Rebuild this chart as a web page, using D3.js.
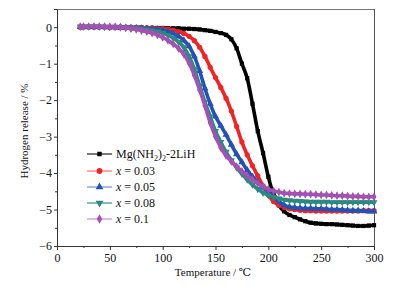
<!DOCTYPE html>
<html><head><meta charset="utf-8">
<script src="https://cdn.jsdelivr.net/npm/d3@7"></script>
<style>
html,body{margin:0;padding:0;background:#fff;}
svg{display:block;}
svg text{font-family:"Liberation Serif","DejaVu Serif","Times New Roman",serif;}
</style></head>
<body><svg id="c" width="404" height="286"></svg>
<script>
const temps = [22,25,30,35,40,45,50,55,60,65,70,75,80,85,90,95,100,105,110,115,120,125,130,135,140,145,150,155,160,165,170,175,180,185,190,195,200,205,210,215,220,225,230,235,240,245,250,255,260,265,270,275,280,285,290,295,300];
const base = [0,0,0,0,0,0,0,0,-0.01,-0.01,-0.01,-0.01,-0.01,-0.02,-0.02,-0.02,-0.02,-0.03,-0.03,-0.03,-0.04,-0.04,-0.05,-0.06,-0.08,-0.1,-0.13,-0.16,-0.21,-0.33,-0.58,-1.0,-1.4,-2.1,-2.85,-3.45,-4.1,-4.6,-4.88,-5.05,-5.15,-5.21,-5.27,-5.32,-5.36,-5.38,-5.39,-5.4,-5.4,-5.41,-5.42,-5.43,-5.44,-5.45,-5.45,-5.44,-5.43];
const x003 = [0.01,0.01,0.01,0.01,0.01,0.01,0,0,0,0,-0.01,-0.01,-0.01,-0.02,-0.02,-0.03,-0.04,-0.06,-0.08,-0.12,-0.17,-0.25,-0.37,-0.55,-0.8,-1.1,-1.38,-1.65,-1.95,-2.3,-2.72,-3.15,-3.5,-3.8,-4.08,-4.35,-4.6,-4.78,-4.88,-4.94,-4.98,-5.0,-5.02,-5.03,-5.03,-5.04,-5.04,-5.04,-5.04,-5.04,-5.04,-5.04,-5.04,-5.04,-5.03,-5.03,-5.03];
const x005 = [0.01,0.01,0.01,0.01,0.01,0.01,0,0,0,-0.01,-0.01,-0.02,-0.03,-0.04,-0.05,-0.06,-0.08,-0.12,-0.17,-0.25,-0.36,-0.52,-0.8,-1.2,-1.68,-2.1,-2.45,-2.7,-2.95,-3.22,-3.48,-3.7,-3.92,-4.1,-4.25,-4.4,-4.52,-4.65,-4.78,-4.88,-4.93,-4.95,-4.96,-4.97,-4.97,-4.98,-4.98,-4.99,-5.0,-5.0,-5.01,-5.02,-5.03,-5.03,-5.04,-5.05,-5.05];
const x008 = [0.02,0.02,0.02,0.02,0.02,0.01,0.01,0.01,0,-0.01,-0.02,-0.03,-0.05,-0.07,-0.09,-0.12,-0.16,-0.22,-0.3,-0.4,-0.55,-0.8,-1.15,-1.6,-2.05,-2.45,-2.85,-3.15,-3.42,-3.65,-3.85,-4.02,-4.18,-4.32,-4.44,-4.54,-4.61,-4.66,-4.7,-4.73,-4.75,-4.76,-4.77,-4.78,-4.79,-4.79,-4.79,-4.79,-4.8,-4.8,-4.8,-4.8,-4.8,-4.8,-4.8,-4.8,-4.8];
const x01 = [0.02,0.02,0.02,0.02,0.02,0.02,0.01,0.01,0,-0.02,-0.04,-0.06,-0.09,-0.12,-0.16,-0.21,-0.28,-0.36,-0.46,-0.58,-0.74,-0.98,-1.32,-1.72,-2.15,-2.62,-3.0,-3.3,-3.52,-3.68,-3.82,-3.95,-4.07,-4.18,-4.28,-4.37,-4.44,-4.49,-4.52,-4.55,-4.56,-4.57,-4.57,-4.58,-4.58,-4.59,-4.6,-4.6,-4.61,-4.62,-4.62,-4.63,-4.64,-4.64,-4.65,-4.65,-4.65];
const xTicks = [0,50,100,150,200,250,300];
const yTicks = [-6,-5,-4,-3,-2,-1,0];

const series = [
  {key:"base", values:base, color:"#000000", legendColor:"#222222", symbol:d3.symbolSquare, rot:0},
  {key:"0.03", values:x003, color:"#f02424", legendColor:"#ff6a6a", symbol:d3.symbolCircle, rot:0},
  {key:"0.05", values:x005, color:"#2452b4", legendColor:"#a8bce4", symbol:d3.symbolTriangle, rot:0},
  {key:"0.08", values:x008, color:"#2a8a80", legendColor:"#3a8f86", symbol:d3.symbolTriangle, rot:180},
  {key:"0.1", values:x01, color:"#a451b4", legendColor:"#c98ad4", symbol:d3.symbolDiamond, rot:0}
];

const svg = d3.select("#c");
const L=57, R=374, T=9, B=246;
const x = d3.scaleLinear().domain([0,300]).range([L,R]);
const y = d3.scaleLinear().domain([-6,0.5]).range([B,T]);

svg.append("line").attr("x1",L).attr("x2",R).attr("y1",T+0.5).attr("y2",T+0.5).attr("stroke","#777").attr("stroke-width",1);
svg.append("line").attr("x1",R+0.5).attr("x2",R+0.5).attr("y1",T).attr("y2",B).attr("stroke","#555").attr("stroke-width",1);

const xAxis = svg.append("g").attr("transform",`translate(0,${B})`)
  .call(d3.axisBottom(x).tickValues(xTicks).tickSize(4).tickPadding(3).tickFormat(d3.format("d")));
const xMinor = svg.append("g").attr("transform",`translate(0,${B})`)
  .call(d3.axisBottom(x).tickValues([25,75,125,175,225,275]).tickSize(2).tickFormat(""));
const yAxis = svg.append("g").attr("transform",`translate(${L},0)`)
  .call(d3.axisLeft(y).tickValues(yTicks).tickSize(3).tickPadding(2).tickFormat(d3.format("d")));
const yMinor = svg.append("g").attr("transform",`translate(${L},0)`)
  .call(d3.axisLeft(y).tickValues([-5.5,-4.5,-3.5,-2.5,-1.5,-0.5]).tickSize(2).tickFormat(""));
[xAxis,xMinor,yAxis,yMinor].forEach(g=>{
  g.attr("font-family",null);
  g.select(".domain").attr("stroke","#333");
  g.selectAll(".tick line").attr("stroke","#333");
  g.selectAll("text").attr("font-size",12).attr("fill","#111");
});
yMinor.select(".domain").remove(); xMinor.select(".domain").remove();

const line = d3.line().x((d,i)=>x(temps[i])).y(d=>y(d)).curve(d3.curveMonotoneX);
series.forEach(s=>{
  const g = svg.append("g");
  g.append("path").attr("d",line(s.values)).attr("fill","none").attr("stroke",s.color).attr("stroke-width",3.6);
  g.selectAll("path.m").data(s.values).join("path").attr("class","m")
    .attr("d",d3.symbol().type(s.symbol).size(s.symbol===d3.symbolSquare?18:22))
    .attr("transform",(d,i)=>`translate(${x(temps[i])},${y(d)}) rotate(${s.rot})`)
    .attr("fill",s.color);
});

const lg = svg.append("g");
const rowY = [154,171,187,203,219];
series.forEach((s,i)=>{
  const yy = rowY[i];
  lg.append("line").attr("x1",87).attr("x2",112).attr("y1",yy).attr("y2",yy)
    .attr("stroke",s.legendColor).attr("stroke-width",i===2?2:1.2);
  lg.append("path").attr("d",d3.symbol().type(s.symbol).size(s.symbol===d3.symbolSquare?20:26))
    .attr("transform",`translate(99.5,${yy}) rotate(${s.rot})`).attr("fill",s.color);
  const t = lg.append("text").attr("x",116).attr("y",yy+4).attr("font-size",12).attr("fill","#111");
  if(i===0){
    t.append("tspan").text("Mg(NH");
    t.append("tspan").attr("font-size",8).attr("dy",3).text("2");
    t.append("tspan").attr("dy",-3).text(")");
    t.append("tspan").attr("font-size",8).attr("dy",3).text("2");
    t.append("tspan").attr("dy",-3).text("-2LiH");
  } else {
    t.append("tspan").attr("font-style","italic").text("x");
    t.append("tspan").text(" = " + s.key);
  }
});

svg.append("text").attr("x",213).attr("y",276).attr("text-anchor","middle")
  .attr("font-size",11).attr("fill","#111").text("Temperature / ℃");
svg.append("text").attr("transform","translate(28,131) rotate(-90)").attr("text-anchor","middle")
  .attr("font-size",11).attr("fill","#111").text("Hydrogen release / %");
</script></body></html>
